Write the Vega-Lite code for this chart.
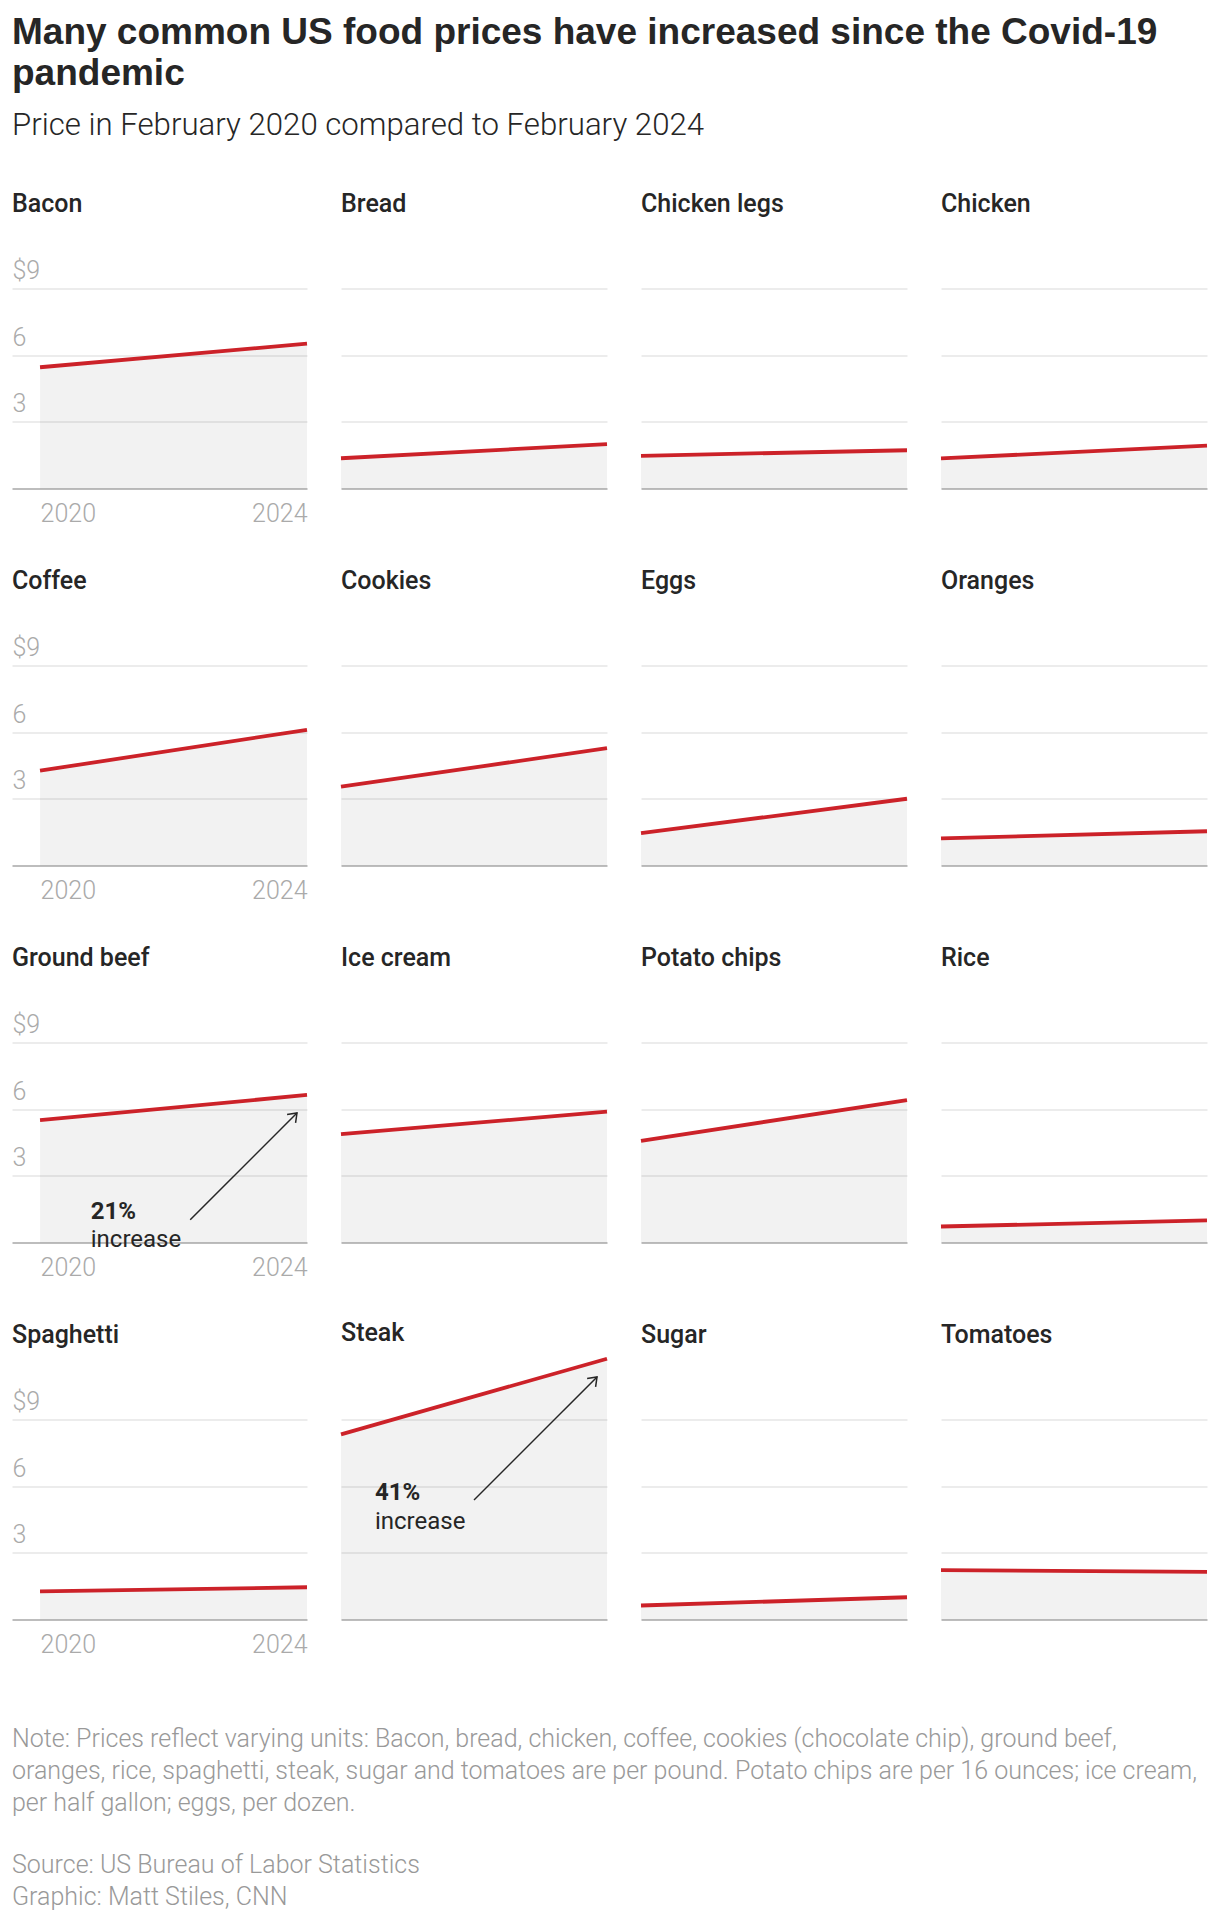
{
  "$schema": "https://vega.github.io/schema/vega-lite/v6.json",
  "padding": {"left": 12, "top": 13.5, "right": 12, "bottom": 12},
  "datasets": {
    "prices": [
      {"item": "Bacon", "year": 2020, "price": 5.45}, {"item": "Bacon", "year": 2024, "price": 6.51},
      {"item": "Bread", "year": 2020, "price": 1.36}, {"item": "Bread", "year": 2024, "price": 1.99},
      {"item": "Chicken legs", "year": 2020, "price": 1.47}, {"item": "Chicken legs", "year": 2024, "price": 1.72},
      {"item": "Chicken", "year": 2020, "price": 1.35}, {"item": "Chicken", "year": 2024, "price": 1.93},
      {"item": "Coffee", "year": 2020, "price": 4.26}, {"item": "Coffee", "year": 2024, "price": 6.10},
      {"item": "Cookies", "year": 2020, "price": 3.54}, {"item": "Cookies", "year": 2024, "price": 5.27},
      {"item": "Eggs", "year": 2020, "price": 1.45}, {"item": "Eggs", "year": 2024, "price": 3.00},
      {"item": "Oranges", "year": 2020, "price": 1.22}, {"item": "Oranges", "year": 2024, "price": 1.54},
      {"item": "Ground beef", "year": 2020, "price": 5.50}, {"item": "Ground beef", "year": 2024, "price": 6.63},
      {"item": "Ice cream", "year": 2020, "price": 4.87}, {"item": "Ice cream", "year": 2024, "price": 5.88},
      {"item": "Potato chips", "year": 2020, "price": 4.57}, {"item": "Potato chips", "year": 2024, "price": 6.40},
      {"item": "Rice", "year": 2020, "price": 0.72}, {"item": "Rice", "year": 2024, "price": 0.99},
      {"item": "Spaghetti", "year": 2020, "price": 1.26}, {"item": "Spaghetti", "year": 2024, "price": 1.45},
      {"item": "Steak", "year": 2020, "price": 8.32}, {"item": "Steak", "year": 2024, "price": 11.72},
      {"item": "Sugar", "year": 2020, "price": 0.63}, {"item": "Sugar", "year": 2024, "price": 1.00},
      {"item": "Tomatoes", "year": 2020, "price": 2.22}, {"item": "Tomatoes", "year": 2024, "price": 2.14}
    ],
    "notes": [
      {"item": "Ground beef", "year": 2020.76, "price": 1.06, "pct": "21%", "word": "increase"},
      {"item": "Steak", "year": 2020.51, "price": 5.37, "pct": "41%", "word": "increase"}
    ],
    "arrows": [
      {"item": "Ground beef", "year": 2023.85, "price": 5.82, "year2": 2022.25, "price2": 1.02},
      {"item": "Steak", "year": 2023.85, "price": 10.9, "year2": 2022.0, "price2": 5.37}
    ]
  },
  "data": {"name": "prices"},
  "title": {
    "text": ["Many common US food prices have increased since the Covid-19", "pandemic"],
    "subtitle": "Price in February 2020 compared to February 2024",
    "anchor": "start",
    "frame": "group",
    "font": "Liberation Sans",
    "fontSize": 37,
    "fontWeight": 700,
    "lineHeight": 41,
    "color": "#262626",
    "subtitleFont": "Roboto",
    "subtitleFontSize": 31.2,
    "subtitleFontWeight": 300,
    "subtitleColor": "#262626",
    "subtitlePadding": 17,
    "offset": 49.5
  },
  "vconcat": [
    {
      "title": {
        "text": [
          "Note: Prices reflect varying units: Bacon, bread, chicken, coffee, cookies (chocolate chip), ground beef,",
          "oranges, rice, spaghetti, steak, sugar and tomatoes are per pound. Potato chips are per 16 ounces; ice cream,",
          "per half gallon; eggs, per dozen."
        ],
        "subtitle": ["Source: US Bureau of Labor Statistics", "Graphic: Matt Stiles, CNN"],
        "orient": "bottom",
        "anchor": "start",
        "frame": "bounds",
        "font": "Roboto",
        "fontSize": 25,
        "fontWeight": 300,
        "color": "#999999",
        "lineHeight": 32,
        "subtitleFont": "Roboto",
        "subtitleFontSize": 25,
        "subtitleFontWeight": 300,
        "subtitleColor": "#999999",
        "subtitleLineHeight": 32,
        "subtitlePadding": 37,
        "offset": 69
      },
      "columns": 4,
      "spacing": {"row": 110, "column": 34},
      "bounds": "flush",
      "resolve": {"scale": {"x": "independent", "y": "independent"}},
      "concat": [
        {
          "title": "Bacon", "width": 295, "height": 267,
          "transform": [{"filter": "datum.item === 'Bacon'"}],
          "encoding": {
            "x": {"field": "year", "type": "quantitative", "title": null, "scale": {"domain": [2019.58, 2024], "nice": false, "zero": false}, "axis": {"values": [2020, 2024], "format": "d", "labelAlign": {"condition": {"test": "datum.value === 2020", "value": "left"}, "value": "right"}}},
            "y": {"field": "price", "type": "quantitative", "title": null, "scale": {"domain": [0, 12], "nice": false}, "axis": {"values": [3, 6, 9], "labelExpr": "datum.value === 9 ? '$9' : datum.label"}}
          },
          "layer": [
            {"mark": {"type": "area", "color": "#000000", "opacity": 0.05}, "encoding": {}},
            {"mark": {"type": "line", "color": "#cc2229", "strokeWidth": 3.8}, "encoding": {}}
          ]
        },
        {
          "title": "Bread", "width": 266, "height": 267,
          "transform": [{"filter": "datum.item === 'Bread'"}],
          "encoding": {
            "x": {"field": "year", "type": "quantitative", "title": null, "scale": {"domain": [2020, 2024], "nice": false, "zero": false}, "axis": {"labels": false}},
            "y": {"field": "price", "type": "quantitative", "title": null, "scale": {"domain": [0, 12], "nice": false}, "axis": {"values": [3, 6, 9], "labels": false}}
          },
          "layer": [
            {"mark": {"type": "area", "color": "#000000", "opacity": 0.05}, "encoding": {}},
            {"mark": {"type": "line", "color": "#cc2229", "strokeWidth": 3.8}, "encoding": {}}
          ]
        },
        {
          "title": "Chicken legs", "width": 266, "height": 267,
          "transform": [{"filter": "datum.item === 'Chicken legs'"}],
          "encoding": {
            "x": {"field": "year", "type": "quantitative", "title": null, "scale": {"domain": [2020, 2024], "nice": false, "zero": false}, "axis": {"labels": false}},
            "y": {"field": "price", "type": "quantitative", "title": null, "scale": {"domain": [0, 12], "nice": false}, "axis": {"values": [3, 6, 9], "labels": false}}
          },
          "layer": [
            {"mark": {"type": "area", "color": "#000000", "opacity": 0.05}, "encoding": {}},
            {"mark": {"type": "line", "color": "#cc2229", "strokeWidth": 3.8}, "encoding": {}}
          ]
        },
        {
          "title": "Chicken", "width": 266, "height": 267,
          "transform": [{"filter": "datum.item === 'Chicken'"}],
          "encoding": {
            "x": {"field": "year", "type": "quantitative", "title": null, "scale": {"domain": [2020, 2024], "nice": false, "zero": false}, "axis": {"labels": false}},
            "y": {"field": "price", "type": "quantitative", "title": null, "scale": {"domain": [0, 12], "nice": false}, "axis": {"values": [3, 6, 9], "labels": false}}
          },
          "layer": [
            {"mark": {"type": "area", "color": "#000000", "opacity": 0.05}, "encoding": {}},
            {"mark": {"type": "line", "color": "#cc2229", "strokeWidth": 3.8}, "encoding": {}}
          ]
        },
        {
          "title": "Coffee", "width": 295, "height": 267,
          "transform": [{"filter": "datum.item === 'Coffee'"}],
          "encoding": {
            "x": {"field": "year", "type": "quantitative", "title": null, "scale": {"domain": [2019.58, 2024], "nice": false, "zero": false}, "axis": {"values": [2020, 2024], "format": "d", "labelAlign": {"condition": {"test": "datum.value === 2020", "value": "left"}, "value": "right"}}},
            "y": {"field": "price", "type": "quantitative", "title": null, "scale": {"domain": [0, 12], "nice": false}, "axis": {"values": [3, 6, 9], "labelExpr": "datum.value === 9 ? '$9' : datum.label"}}
          },
          "layer": [
            {"mark": {"type": "area", "color": "#000000", "opacity": 0.05}, "encoding": {}},
            {"mark": {"type": "line", "color": "#cc2229", "strokeWidth": 3.8}, "encoding": {}}
          ]
        },
        {
          "title": "Cookies", "width": 266, "height": 267,
          "transform": [{"filter": "datum.item === 'Cookies'"}],
          "encoding": {
            "x": {"field": "year", "type": "quantitative", "title": null, "scale": {"domain": [2020, 2024], "nice": false, "zero": false}, "axis": {"labels": false}},
            "y": {"field": "price", "type": "quantitative", "title": null, "scale": {"domain": [0, 12], "nice": false}, "axis": {"values": [3, 6, 9], "labels": false}}
          },
          "layer": [
            {"mark": {"type": "area", "color": "#000000", "opacity": 0.05}, "encoding": {}},
            {"mark": {"type": "line", "color": "#cc2229", "strokeWidth": 3.8}, "encoding": {}}
          ]
        },
        {
          "title": "Eggs", "width": 266, "height": 267,
          "transform": [{"filter": "datum.item === 'Eggs'"}],
          "encoding": {
            "x": {"field": "year", "type": "quantitative", "title": null, "scale": {"domain": [2020, 2024], "nice": false, "zero": false}, "axis": {"labels": false}},
            "y": {"field": "price", "type": "quantitative", "title": null, "scale": {"domain": [0, 12], "nice": false}, "axis": {"values": [3, 6, 9], "labels": false}}
          },
          "layer": [
            {"mark": {"type": "area", "color": "#000000", "opacity": 0.05}, "encoding": {}},
            {"mark": {"type": "line", "color": "#cc2229", "strokeWidth": 3.8}, "encoding": {}}
          ]
        },
        {
          "title": "Oranges", "width": 266, "height": 267,
          "transform": [{"filter": "datum.item === 'Oranges'"}],
          "encoding": {
            "x": {"field": "year", "type": "quantitative", "title": null, "scale": {"domain": [2020, 2024], "nice": false, "zero": false}, "axis": {"labels": false}},
            "y": {"field": "price", "type": "quantitative", "title": null, "scale": {"domain": [0, 12], "nice": false}, "axis": {"values": [3, 6, 9], "labels": false}}
          },
          "layer": [
            {"mark": {"type": "area", "color": "#000000", "opacity": 0.05}, "encoding": {}},
            {"mark": {"type": "line", "color": "#cc2229", "strokeWidth": 3.8}, "encoding": {}}
          ]
        },
        {
          "title": "Ground beef", "width": 295, "height": 267,
          "transform": [{"filter": "datum.item === 'Ground beef'"}],
          "encoding": {
            "x": {"field": "year", "type": "quantitative", "title": null, "scale": {"domain": [2019.58, 2024], "nice": false, "zero": false}, "axis": {"values": [2020, 2024], "format": "d", "labelAlign": {"condition": {"test": "datum.value === 2020", "value": "left"}, "value": "right"}}},
            "y": {"field": "price", "type": "quantitative", "title": null, "scale": {"domain": [0, 12], "nice": false}, "axis": {"values": [3, 6, 9], "labelExpr": "datum.value === 9 ? '$9' : datum.label"}}
          },
          "layer": [
            {"mark": {"type": "area", "color": "#000000", "opacity": 0.05}, "encoding": {}},
            {"mark": {"type": "line", "color": "#cc2229", "strokeWidth": 3.8}, "encoding": {}},
            {"data": {"name": "notes"}, "transform": [{"filter": "datum.item === 'Ground beef'"}], "mark": {"type": "text", "align": "left", "baseline": "alphabetic", "fontSize": 24, "fontWeight": 700, "color": "#262626"}, "encoding": {"text": {"field": "pct"}}},
            {"data": {"name": "notes"}, "transform": [{"filter": "datum.item === 'Ground beef'"}], "mark": {"type": "text", "align": "left", "baseline": "alphabetic", "fontSize": 24, "fontWeight": 400, "dy": 28, "color": "#262626"}, "encoding": {"text": {"field": "word"}}},
            {"data": {"name": "arrows"}, "transform": [{"filter": "datum.item === 'Ground beef'"}], "mark": {"type": "rule", "color": "#262626", "strokeWidth": 1.5}, "encoding": {"x2": {"field": "year2"}, "y2": {"field": "price2"}}},
            {"data": {"name": "arrows"}, "transform": [{"filter": "datum.item === 'Ground beef'"}], "mark": {"type": "point", "shape": "M-0.6,0.8L0,0L0.6,0.8", "filled": false, "size": 400, "angle": 45, "color": "#262626", "strokeWidth": 1.5, "opacity": 1}, "encoding": {}}
          ]
        },
        {
          "title": "Ice cream", "width": 266, "height": 267,
          "transform": [{"filter": "datum.item === 'Ice cream'"}],
          "encoding": {
            "x": {"field": "year", "type": "quantitative", "title": null, "scale": {"domain": [2020, 2024], "nice": false, "zero": false}, "axis": {"labels": false}},
            "y": {"field": "price", "type": "quantitative", "title": null, "scale": {"domain": [0, 12], "nice": false}, "axis": {"values": [3, 6, 9], "labels": false}}
          },
          "layer": [
            {"mark": {"type": "area", "color": "#000000", "opacity": 0.05}, "encoding": {}},
            {"mark": {"type": "line", "color": "#cc2229", "strokeWidth": 3.8}, "encoding": {}}
          ]
        },
        {
          "title": "Potato chips", "width": 266, "height": 267,
          "transform": [{"filter": "datum.item === 'Potato chips'"}],
          "encoding": {
            "x": {"field": "year", "type": "quantitative", "title": null, "scale": {"domain": [2020, 2024], "nice": false, "zero": false}, "axis": {"labels": false}},
            "y": {"field": "price", "type": "quantitative", "title": null, "scale": {"domain": [0, 12], "nice": false}, "axis": {"values": [3, 6, 9], "labels": false}}
          },
          "layer": [
            {"mark": {"type": "area", "color": "#000000", "opacity": 0.05}, "encoding": {}},
            {"mark": {"type": "line", "color": "#cc2229", "strokeWidth": 3.8}, "encoding": {}}
          ]
        },
        {
          "title": "Rice", "width": 266, "height": 267,
          "transform": [{"filter": "datum.item === 'Rice'"}],
          "encoding": {
            "x": {"field": "year", "type": "quantitative", "title": null, "scale": {"domain": [2020, 2024], "nice": false, "zero": false}, "axis": {"labels": false}},
            "y": {"field": "price", "type": "quantitative", "title": null, "scale": {"domain": [0, 12], "nice": false}, "axis": {"values": [3, 6, 9], "labels": false}}
          },
          "layer": [
            {"mark": {"type": "area", "color": "#000000", "opacity": 0.05}, "encoding": {}},
            {"mark": {"type": "line", "color": "#cc2229", "strokeWidth": 3.8}, "encoding": {}}
          ]
        },
        {
          "title": "Spaghetti", "width": 295, "height": 267,
          "transform": [{"filter": "datum.item === 'Spaghetti'"}],
          "encoding": {
            "x": {"field": "year", "type": "quantitative", "title": null, "scale": {"domain": [2019.58, 2024], "nice": false, "zero": false}, "axis": {"values": [2020, 2024], "format": "d", "labelAlign": {"condition": {"test": "datum.value === 2020", "value": "left"}, "value": "right"}}},
            "y": {"field": "price", "type": "quantitative", "title": null, "scale": {"domain": [0, 12], "nice": false}, "axis": {"values": [3, 6, 9], "labelExpr": "datum.value === 9 ? '$9' : datum.label"}}
          },
          "layer": [
            {"mark": {"type": "area", "color": "#000000", "opacity": 0.05}, "encoding": {}},
            {"mark": {"type": "line", "color": "#cc2229", "strokeWidth": 3.8}, "encoding": {}}
          ]
        },
        {
          "title": "Steak", "width": 266, "height": 267,
          "transform": [{"filter": "datum.item === 'Steak'"}],
          "encoding": {
            "x": {"field": "year", "type": "quantitative", "title": null, "scale": {"domain": [2020, 2024], "nice": false, "zero": false}, "axis": {"labels": false}},
            "y": {"field": "price", "type": "quantitative", "title": null, "scale": {"domain": [0, 12], "nice": false}, "axis": {"values": [3, 6, 9], "labels": false}}
          },
          "layer": [
            {"mark": {"type": "area", "color": "#000000", "opacity": 0.05}, "encoding": {}},
            {"mark": {"type": "line", "color": "#cc2229", "strokeWidth": 3.8}, "encoding": {}},
            {"data": {"name": "notes"}, "transform": [{"filter": "datum.item === 'Steak'"}], "mark": {"type": "text", "align": "left", "baseline": "alphabetic", "fontSize": 24, "fontWeight": 700, "color": "#262626"}, "encoding": {"text": {"field": "pct"}}},
            {"data": {"name": "notes"}, "transform": [{"filter": "datum.item === 'Steak'"}], "mark": {"type": "text", "align": "left", "baseline": "alphabetic", "fontSize": 24, "fontWeight": 400, "dy": 29, "color": "#262626"}, "encoding": {"text": {"field": "word"}}},
            {"data": {"name": "arrows"}, "transform": [{"filter": "datum.item === 'Steak'"}], "mark": {"type": "rule", "color": "#262626", "strokeWidth": 1.5}, "encoding": {"x2": {"field": "year2"}, "y2": {"field": "price2"}}},
            {"data": {"name": "arrows"}, "transform": [{"filter": "datum.item === 'Steak'"}], "mark": {"type": "point", "shape": "M-0.6,0.8L0,0L0.6,0.8", "filled": false, "size": 400, "angle": 45, "color": "#262626", "strokeWidth": 1.5, "opacity": 1}, "encoding": {}}
          ]
        },
        {
          "title": "Sugar", "width": 266, "height": 267,
          "transform": [{"filter": "datum.item === 'Sugar'"}],
          "encoding": {
            "x": {"field": "year", "type": "quantitative", "title": null, "scale": {"domain": [2020, 2024], "nice": false, "zero": false}, "axis": {"labels": false}},
            "y": {"field": "price", "type": "quantitative", "title": null, "scale": {"domain": [0, 12], "nice": false}, "axis": {"values": [3, 6, 9], "labels": false}}
          },
          "layer": [
            {"mark": {"type": "area", "color": "#000000", "opacity": 0.05}, "encoding": {}},
            {"mark": {"type": "line", "color": "#cc2229", "strokeWidth": 3.8}, "encoding": {}}
          ]
        },
        {
          "title": "Tomatoes", "width": 266, "height": 267,
          "transform": [{"filter": "datum.item === 'Tomatoes'"}],
          "encoding": {
            "x": {"field": "year", "type": "quantitative", "title": null, "scale": {"domain": [2020, 2024], "nice": false, "zero": false}, "axis": {"labels": false}},
            "y": {"field": "price", "type": "quantitative", "title": null, "scale": {"domain": [0, 12], "nice": false}, "axis": {"values": [3, 6, 9], "labels": false}}
          },
          "layer": [
            {"mark": {"type": "area", "color": "#000000", "opacity": 0.05}, "encoding": {}},
            {"mark": {"type": "line", "color": "#cc2229", "strokeWidth": 3.8}, "encoding": {}}
          ]
        }
      ]
    }
  ],
  "config": {
    "font": "Roboto",
    "view": {"stroke": null},
    "title": {"anchor": "start", "frame": "group", "fontSize": 25, "fontWeight": 500, "color": "#262626", "offset": 5},
    "axis": {"minExtent": 0},
    "axisX": {"ticks": false, "grid": false, "domainColor": "#bdbdbd", "domainWidth": 2, "labelFontSize": 25, "labelFontWeight": 300, "labelColor": "#aaaaaa", "labelPadding": 13, "labelFlush": false},
    "axisY": {"ticks": false, "tickSize": 0, "domain": false, "grid": true, "gridColor": "#e6e6e6", "gridWidth": 1.5, "labelFontSize": 25, "labelFontWeight": 300, "labelColor": "#aaaaaa", "labelAlign": "left", "labelBaseline": "alphabetic", "labelPadding": 0, "labelOffset": -10}
  }
}
